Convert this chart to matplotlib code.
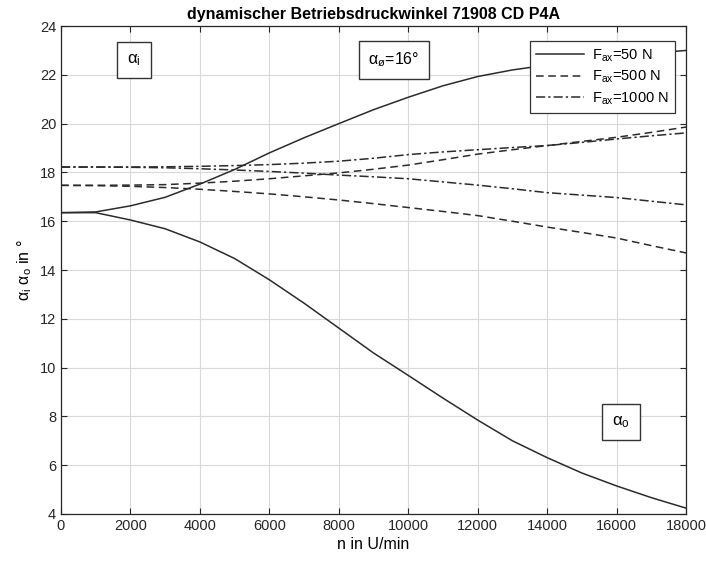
import matplotlib
matplotlib.use("Agg")
import matplotlib.pyplot as plt

plt.rcParams['font.family'] = ['Liberation Sans', 'DejaVu Sans']
plt.rcParams['mathtext.fontset'] = 'custom'
plt.rcParams['mathtext.rm'] = 'Liberation Sans'
plt.rcParams['mathtext.it'] = 'Liberation Sans:italic'

# Drehzahl in U/min
n = [0, 1000, 2000, 3000, 4000, 5000, 6000, 7000, 8000, 9000,
     10000, 11000, 12000, 13000, 14000, 15000, 16000, 17000, 18000]

# F_ax = 50 N
ai_50 = [16.35, 16.38, 16.63, 16.98, 17.52, 18.12, 18.8, 19.42, 20.0, 20.57,
         21.08, 21.55, 21.93, 22.2, 22.4, 22.58, 22.75, 22.88, 23.0]
ao_50 = [16.35, 16.35, 16.05, 15.69, 15.15, 14.47, 13.6, 12.64, 11.62, 10.6,
         9.68, 8.75, 7.85, 7.0, 6.31, 5.68, 5.15, 4.67, 4.24]

# F_ax = 500 N
ai_500 = [17.47, 17.47, 17.48, 17.5, 17.56, 17.64, 17.74, 17.86, 17.98, 18.13,
          18.3, 18.52, 18.75, 18.93, 19.1, 19.27, 19.44, 19.64, 19.86]
ao_500 = [17.47, 17.46, 17.43, 17.38, 17.31, 17.22, 17.12, 17.0, 16.87, 16.72,
          16.56, 16.4, 16.23, 16.0, 15.76, 15.54, 15.31, 15.0, 14.7]

# F_ax = 1000 N
ai_1000 = [18.22, 18.22, 18.22, 18.23, 18.25, 18.28, 18.32, 18.38, 18.46, 18.58,
           18.73, 18.84, 18.93, 19.02, 19.1, 19.23, 19.37, 19.5, 19.62]
ao_1000 = [18.22, 18.22, 18.21, 18.19, 18.15, 18.1, 18.04, 17.97, 17.89, 17.82,
           17.74, 17.61, 17.48, 17.33, 17.17, 17.07, 16.97, 16.82, 16.67]

labels = [r'F$_\mathrm{ax}$=50 N', r'F$_\mathrm{ax}$=500 N', r'F$_\mathrm{ax}$=1000 N']

fig = plt.figure(figsize=(7.06, 5.67), dpi=100)
ax = fig.add_axes([0.0864, 0.0935, 0.8853, 0.8606])

col = '#2b2b2b'
ax.plot(n, ai_50, '-', color=col, lw=1.1, label=labels[0])
ax.plot(n, ai_500, '--', color=col, lw=1.1, dashes=(5, 3), label=labels[1])
ax.plot(n, ai_1000, '-.', color=col, lw=1.1, dashes=(6, 2, 1.5, 2), label=labels[2])
ax.plot(n, ao_50, '-', color=col, lw=1.1)
ax.plot(n, ao_500, '--', color=col, lw=1.1, dashes=(5, 3))
ax.plot(n, ao_1000, '-.', color=col, lw=1.1, dashes=(6, 2, 1.5, 2))

ax.set_xlim(0, 18000)
ax.set_ylim(4, 24)
ax.set_xticks(range(0, 18001, 2000))
ax.set_yticks(range(4, 25, 2))
ax.grid(True, color='#d9d9d9', lw=0.8)
ax.set_axisbelow(True)
ax.tick_params(direction='in', length=4, labelsize=10.5, colors='#262626',
               top=True, right=True)
for s in ax.spines.values():
    s.set_color('#262626')
    s.set_linewidth(0.9)

ax.set_title('dynamischer Betriebsdruckwinkel 71908 CD P4A', fontsize=11.5,
             fontweight='bold', pad=5)
ax.set_xlabel('n in U/min', fontsize=11.5, labelpad=3)
ax.set_ylabel(r'$\mathrm{\alpha}_\mathrm{i}$ $\mathrm{\alpha}_\mathrm{o}$ in °', fontsize=11.5, labelpad=4)

box = dict(boxstyle='square,pad=0.6', fc='white', ec='#333333', lw=1.0)
ax.text(2110, 22.62, r'$\mathrm{\alpha}_\mathrm{i}$', fontsize=12, ha='center', va='center', bbox=box)
ax.text(9590, 22.62, r'$\mathrm{\alpha}_\mathrm{ø}$=16°', fontsize=11.5, ha='center', va='center', bbox=box)
ax.text(16120, 7.77, r'$\mathrm{\alpha}_\mathrm{o}$', fontsize=12, ha='center', va='center', bbox=box)

leg = ax.legend(loc='upper right', bbox_to_anchor=(0.994, 0.985), fontsize=10.5,
                handlelength=3.3, fancybox=False, framealpha=1, edgecolor='#333333',
                borderpad=0.45, labelspacing=0.35, handletextpad=0.5)
leg.get_frame().set_linewidth(0.9)

fig.savefig('out.png', dpi=100)
